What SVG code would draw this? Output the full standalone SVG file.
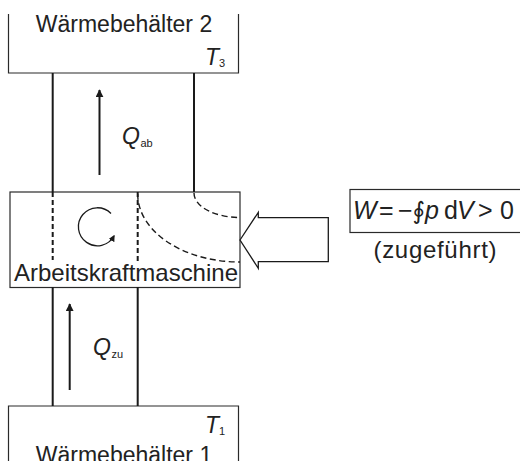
<svg xmlns="http://www.w3.org/2000/svg" width="520" height="461" viewBox="0 0 520 461">
  <defs>
    <style>
      .box { fill: none; stroke: #2a2a2a; stroke-width: 1.2; }
      .chan { fill: none; stroke: #1a1a1a; stroke-width: 2; }
      .dash { fill: none; stroke: #1a1a1a; stroke-width: 2; stroke-dasharray: 5 3; }
      .dcurve { fill: none; stroke: #1a1a1a; stroke-width: 1.4; stroke-dasharray: 6 3.5; }
      .arr { fill: none; stroke: #1a1a1a; stroke-width: 2; marker-end: url(#head); }
      .txt { font-family: "Liberation Sans", Arial, sans-serif; fill: #222; }
      .it { font-style: italic; }
    </style>
    <marker id="head" viewBox="0 0 10 10" refX="9" refY="5" markerWidth="4" markerHeight="4" orient="auto" markerUnits="strokeWidth">
      <path d="M0,0 L10,5 L0,10 Z" fill="#1a1a1a"/>
    </marker>
    <marker id="rothead" viewBox="0 0 10 10" refX="8" refY="5" markerWidth="5" markerHeight="5" orient="auto" markerUnits="strokeWidth">
      <path d="M0,0 L10,5 L0,10 Z" fill="#1a1a1a"/>
    </marker>
  </defs>
  <rect width="520" height="461" fill="#fff"/>

  <g id="reservoir2">
    <path class="box" d="M8.5,14 V73 H238.5 V14"/>
    <text class="txt" x="124" y="32" font-size="23" text-anchor="middle">Wärmebehälter 2</text>
    <text class="txt it" x="205" y="65" font-size="23">T</text>
    <text class="txt" x="219" y="67" font-size="11">3</text>
  </g>

  <g id="machine">
    <rect class="box" x="10" y="192" width="230" height="95.5"/>
    <path class="dash" d="M52.7,192 V260"/>
    <path class="dash" d="M137.7,192 V261"/>
    <path class="dcurve" d="M194,193 A46,24.5 0 0 0 240,217.5"/>
    <path class="dcurve" d="M137.7,194 A102.3,68 0 0 0 240,262"/>
    <path fill="none" stroke="#1a1a1a" stroke-width="1.3" marker-end="url(#rothead)" d="M111,213.5 A19,19 0 1 0 114,236"/>
    <text class="txt" x="14" y="281" font-size="24" textLength="224">Arbeitskraftmaschine</text>
  </g>

  <g id="reservoir1">
    <path class="box" d="M8.5,470 V406 H238.5 V470"/>
    <text class="txt it" x="205" y="433" font-size="23">T</text>
    <text class="txt" x="219" y="435" font-size="11">1</text>
    <text class="txt" x="124" y="463" font-size="23" text-anchor="middle">Wärmebehälter 1</text>
  </g>

  <g id="work-box">
    <rect class="box" x="350" y="189.5" width="180" height="43"/>
    <text class="txt" y="219" font-size="25"><tspan class="it" x="353">W</tspan><tspan x="379">=</tspan><tspan x="398">−</tspan><tspan x="412.5" font-family="DejaVu Sans" font-size="24">∮</tspan><tspan class="it" x="425">p</tspan><tspan x="444">d</tspan><tspan class="it" x="457">V</tspan><tspan x="478">&gt;</tspan><tspan x="500">0</tspan></text>
    <text class="txt" x="435" y="258" font-size="24" text-anchor="middle" textLength="123">(zugeführt)</text>
  </g>

  <g id="connectors">
    <path class="chan" d="M52.7,73 V192 M194,73 V192"/>
    <path class="chan" d="M52.7,287 V406 M137.7,287 V406"/>
    <path class="arr" d="M99.5,175 V90"/>
    <path class="arr" d="M69.7,390 V304"/>
    <path fill="#fff" stroke="#1a1a1a" stroke-width="1.3" stroke-linejoin="miter" d="M240,240 L258.3,212.3 V217.7 H328.3 V261.7 H258.3 V268.3 Z"/>
    <text class="txt it" x="122" y="144" font-size="23">Q</text>
    <text class="txt" x="140.5" y="147" font-size="11">ab</text>
    <text class="txt it" x="93" y="355" font-size="23">Q</text>
    <text class="txt" x="111.5" y="358" font-size="11">zu</text>
  </g>
</svg>
